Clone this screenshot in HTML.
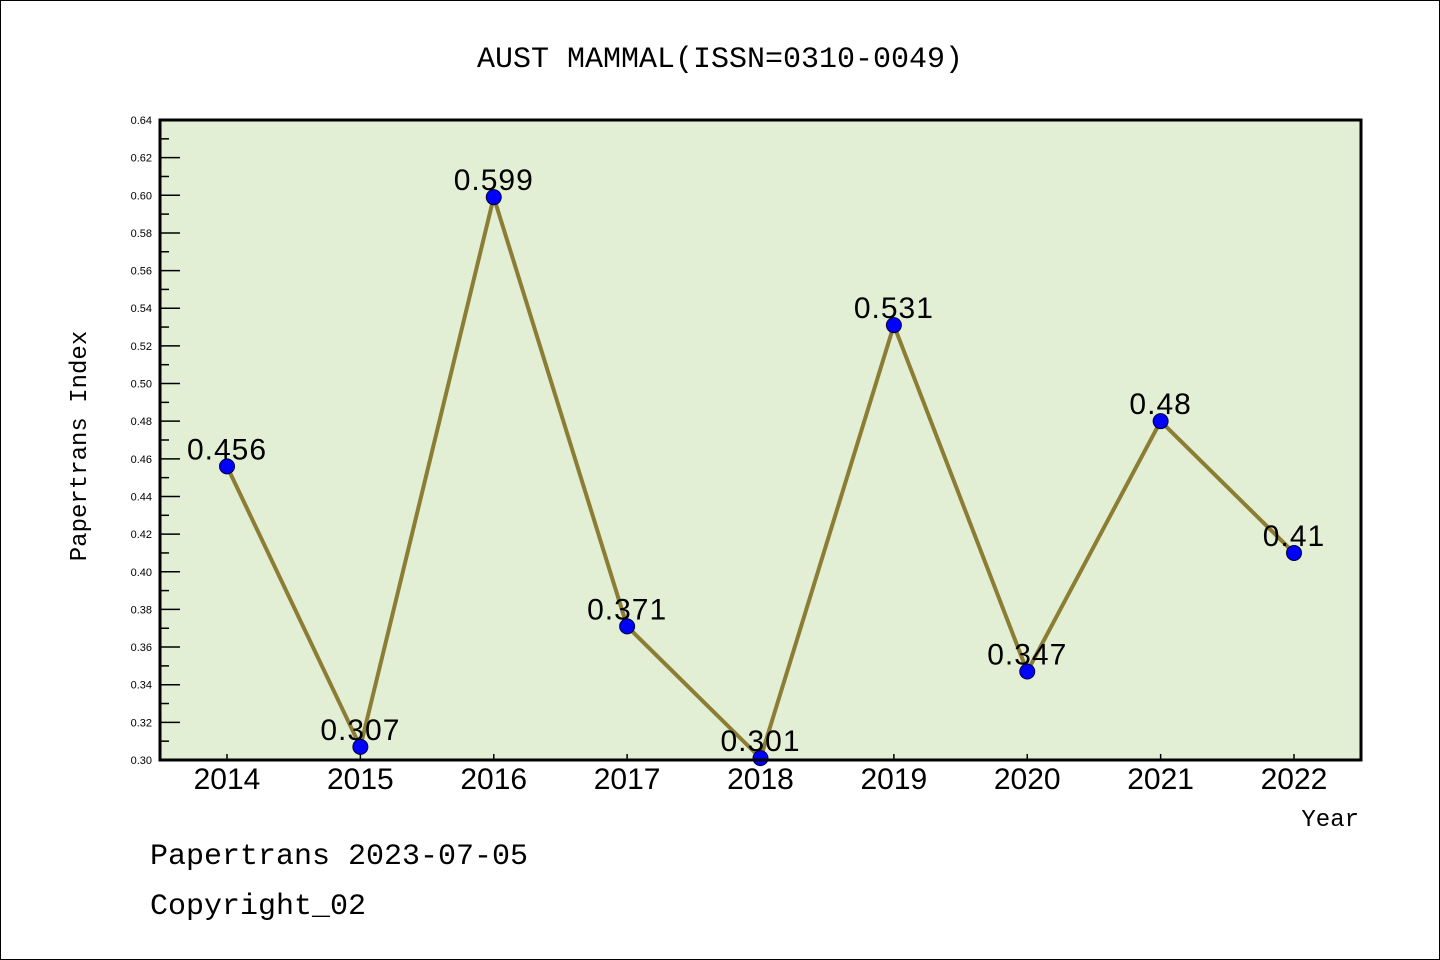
<!DOCTYPE html>
<html><head><meta charset="utf-8"><style>
html,body{margin:0;padding:0;background:#fff;}
svg{display:block;}
</style></head><body>
<svg id="chart" width="1440" height="960" xmlns="http://www.w3.org/2000/svg">
<rect x="0.5" y="0.5" width="1439" height="959" fill="#fff" stroke="#000"/>
<text x="720" y="67" text-anchor="middle" font-family="Liberation Mono, monospace" font-size="30">AUST MAMMAL(ISSN=0310-0049)</text>
<rect x="160" y="120" width="1201" height="640" fill="#e2efd4"/>
<g id="yaxis"></g>
<g id="xaxis"></g>
<g id="series"></g>
<rect x="160" y="120" width="1201" height="640" fill="none" stroke="#000" stroke-width="3"/>
<text x="86" y="446" transform="rotate(-90 86 446)" text-anchor="middle" font-family="Liberation Mono, monospace" font-size="24">Papertrans Index</text>
<text x="1359" y="826" text-anchor="end" font-family="Liberation Mono, monospace" font-size="24">Year</text>
<text x="150" y="864" font-family="Liberation Mono, monospace" font-size="30">Papertrans 2023-07-05</text>
<text x="150" y="914" font-family="Liberation Mono, monospace" font-size="30">Copyright_02</text>
</svg>
<script>
const years = ["2014","2015","2016","2017","2018","2019","2020","2021","2022"];
const values = [0.456,0.307,0.599,0.371,0.301,0.531,0.347,0.48,0.41];
const valueLabels = ["0.456","0.307","0.599","0.371","0.301","0.531","0.347","0.48","0.41"];
const yTicks = [0.30,0.32,0.34,0.36,0.38,0.40,0.42,0.44,0.46,0.48,0.50,0.52,0.54,0.56,0.58,0.60,0.62,0.64];

const NS="http://www.w3.org/2000/svg";
const yMin=0.30,yMax=0.64,plotTop=120,plotBot=760,plotLeft=160,plotRight=1361;
function yPos(v){return plotBot-(v-yMin)/(yMax-yMin)*(plotBot-plotTop);}
function xPos(i){return 227+i*(1294-227)/(years.length-1);}
function mk(tag,attrs,parent){const e=document.createElementNS(NS,tag);for(const k in attrs)e.setAttribute(k,attrs[k]);parent.appendChild(e);return e;}
const ya=document.getElementById('yaxis'),xa=document.getElementById('xaxis'),se=document.getElementById('series');
yTicks.forEach((t,i)=>{
  const yy=yPos(t);
  const ln=mk('line',{x1:plotLeft,x2:plotLeft+20,y1:yy,y2:yy,stroke:'#000','stroke-width':1.5},ya);
  
  
  if(i<yTicks.length-1){const ym=yPos(t+0.01);
    const mn=mk('line',{x1:plotLeft,x2:plotLeft+9,y1:ym,y2:ym,stroke:'#000','stroke-width':1.5},ya);
    
    }
  const tx=mk('text',{x:152,y:yy+4,'text-anchor':'end','font-family':'Liberation Sans, sans-serif','font-size':11},ya);
  tx.textContent=t.toFixed(2);
  
  
});
years.forEach((yr,i)=>{
  const xx=xPos(i);
  const ln=mk('line',{x1:xx,x2:xx,y1:plotBot,y2:plotBot-6,stroke:'#000','stroke-width':1.5},xa);
  
  
  const tx=mk('text',{x:xx,y:789,'text-anchor':'middle','font-family':'Liberation Sans, sans-serif','font-size':30},xa);
  tx.textContent=yr;
  
  
});
const pts=values.map((v,i)=>xPos(i)+','+yPos(v)).join(' ');
const pl=mk('polyline',{points:pts,fill:'none',stroke:'#8c7d34','stroke-width':4,'stroke-linejoin':'round'},se);


values.forEach((v,i)=>{
  const c=mk('circle',{cx:xPos(i),cy:yPos(v),r:7.5,fill:'#0000ff',stroke:'#000033','stroke-width':1},se);
  
  
  const t=mk('text',{x:xPos(i),y:yPos(v)-7,'text-anchor':'middle','font-family':'Liberation Sans, sans-serif','font-size':30,'letter-spacing':'1'},se);
  t.textContent=valueLabels[i];
  
  
});
</script>
</body></html>
